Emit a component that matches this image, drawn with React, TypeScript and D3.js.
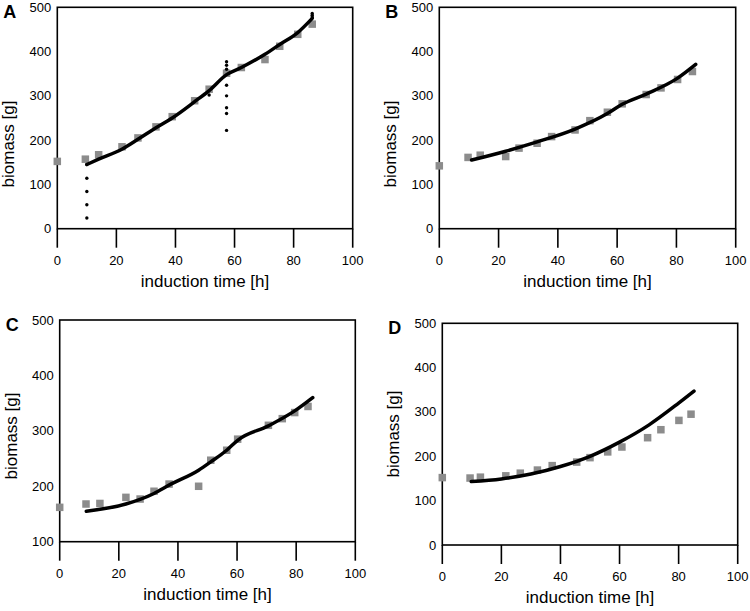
import * as d3 from 'd3';
import React, { useEffect, useRef } from 'react';

// panel A
const aTime = [0, 9.5, 14, 21.9, 27.3, 33.4, 38.9, 46.5, 51.4, 57.3, 62.3, 70.3, 75.3, 81.4, 86.3];
const aMass = [152, 157, 167, 185, 205, 230, 253, 289, 315, 351, 364, 382, 412, 439, 462];
const aFitTime = [10, 14, 22, 27.3, 33.4, 38.9, 46.5, 51.4, 57.3, 62.3, 70.3, 75.3, 81.4, 86.3];
const aFitMass = [145, 157, 180, 202, 228, 250, 287, 312, 348, 364, 394, 416, 443, 475];
const aDotTime = [10, 10, 10, 10, 10, 51.4, 57.3, 57.3, 57.3, 57.3, 57.3, 57.3, 57.3, 57.3, 86.3, 86.3, 86.3];
const aDotMass = [145, 114, 84, 54, 24, 302, 377, 369, 360, 324, 300, 273, 260, 222, 486, 482, 478];

// panel B
const bTime = [0, 9.7, 13.8, 22.4, 26.9, 33, 37.9, 45.8, 50.8, 56.7, 61.7, 69.8, 74.8, 80.4, 85.4];
const bMass = [142, 161, 166, 163, 182, 193, 208, 223, 244, 263, 282, 303, 318, 337, 355];
const bFitTime = [10.9, 22.4, 33, 45.8, 56.7, 61.7, 69.8, 80.4, 86.5];
const bFitMass = [155, 175, 196, 225, 260, 281, 304, 340, 371];

// panel C
const cTime = [0, 8.9, 13.6, 22.4, 27.2, 31.9, 37, 47, 51.1, 56.5, 60.2, 70.6, 75.3, 79.5, 84];
const cMass = [162, 168, 169, 180, 177, 191, 204, 200, 247, 265, 285, 310, 322, 333, 344];
const cFitTime = [9, 22.4, 31.9, 37, 47, 51.1, 56.5, 60.2, 70.6, 79.5, 85.6];
const cFitMass = [155, 168, 187, 202, 229, 244, 265, 283, 309, 336, 360];

// panel D
const dTime = [0, 9.4, 12.9, 21.5, 26.4, 32.2, 37.2, 45.5, 50, 56, 60.8, 69.5, 74, 80.1, 84.2];
const dMass = [152, 151, 153, 156, 162, 169, 179, 187, 197, 210, 221, 242, 260, 281, 295];
const dFitTime = [9.8, 20, 30, 40, 50, 60, 70, 80, 85.2];
const dFitMass = [143, 149, 160, 177, 200, 232, 271, 320, 347];

const xTicks = [0, 20, 40, 60, 80, 100];

interface Panel {
  label: string;
  left: number; top: number; right: number; bottom: number;
  yMin: number;
  titleY: number;
  time: number[]; mass: number[];
  fitTime: number[]; fitMass: number[];
  dotTime?: number[]; dotMass?: number[];
}

const panels: Panel[] = [
  { label: 'A', left: 57.3, top: 7.3, right: 352.7, bottom: 228.7, yMin: 0, titleY: 144,
    time: aTime, mass: aMass, fitTime: aFitTime, fitMass: aFitMass, dotTime: aDotTime, dotMass: aDotMass },
  { label: 'B', left: 439.3, top: 7.3, right: 735.7, bottom: 228.7, yMin: 0, titleY: 144,
    time: bTime, mass: bMass, fitTime: bFitTime, fitMass: bFitMass },
  { label: 'C', left: 59.7, top: 320, right: 355.3, bottom: 541.7, yMin: 100, titleY: 436,
    time: cTime, mass: cMass, fitTime: cFitTime, fitMass: cFitMass },
  { label: 'D', left: 442.3, top: 323.3, right: 737.7, bottom: 545, yMin: 0, titleY: 434,
    time: dTime, mass: dMass, fitTime: dFitTime, fitMass: dFitMass },
];

const FONT = '"Liberation Sans", Arial, sans-serif';

const App: React.FC = () => {
  const svgRef = useRef<SVGSVGElement>(null);

  useEffect(() => {
    if (!svgRef.current) return;
    const svg = d3.select(svgRef.current);
    svg.selectAll('*').remove();

    panels.forEach(p => {
      const x = d3.scaleLinear().domain([0, 100]).range([p.left, p.right]);
      const y = d3.scaleLinear().domain([p.yMin, 500]).range([p.bottom, p.top]);
      const g = svg.append('g').attr('font-family', FONT);
      const tickLen = 19;

      // frame
      g.append('rect')
        .attr('x', p.left).attr('y', p.top)
        .attr('width', p.right - p.left).attr('height', p.bottom - p.top)
        .attr('fill', 'none').attr('stroke', '#000').attr('stroke-width', 1.6);

      // x ticks hang below the axis
      g.selectAll('line.xt').data(xTicks).join('line')
        .attr('x1', d => x(d)).attr('x2', d => x(d))
        .attr('y1', p.bottom).attr('y2', p.bottom + tickLen)
        .attr('stroke', '#000').attr('stroke-width', 1.6);
      g.selectAll('text.xl').data(xTicks).join('text')
        .attr('x', d => x(d)).attr('y', p.bottom + tickLen + 17)
        .attr('text-anchor', 'middle').attr('font-size', 13)
        .text(d => d);

      const yTicks = d3.range(p.yMin, 501, 100);
      g.selectAll('text.yl').data(yTicks).join('text')
        .attr('x', p.left - 6).attr('y', d => y(d) + 4.5)
        .attr('text-anchor', 'end').attr('font-size', 13)
        .text(d => d);

      g.append('text')
        .attr('x', (p.left + p.right) / 2).attr('y', p.bottom + tickLen + 39)
        .attr('text-anchor', 'middle').attr('font-size', 17)
        .text('induction time [h]');
      g.append('text')
        .attr('transform', `translate(${p.left - 43},${p.titleY}) rotate(-90)`)
        .attr('text-anchor', 'middle').attr('font-size', 17)
        .text('biomass [g]');

      g.append('text')
        .attr('x', p.left - 54).attr('y', p.top + 11)
        .attr('font-size', 18).attr('font-weight', 'bold')
        .text(p.label);

      // measured biomass
      const s = 7.5;
      g.selectAll('rect.pt').data(p.time.map((t, i) => [t, p.mass[i]])).join('rect')
        .attr('x', d => x(d[0]) - s / 2).attr('y', d => y(d[1]) - s / 2)
        .attr('width', s).attr('height', s)
        .attr('fill', '#8c8c8c');

      // model
      const line = d3.line<number[]>()
        .x(d => x(d[0]))
        .y(d => y(d[1]))
        .curve(d3.curveMonotoneX);
      g.append('path')
        .datum(p.fitTime.map((t, i) => [t, p.fitMass[i]]))
        .attr('fill', 'none').attr('stroke', '#000')
        .attr('stroke-width', 3.5).attr('stroke-linecap', 'round')
        .attr('d', line);

      if (p.dotTime && p.dotMass) {
        const dm = p.dotMass;
        g.selectAll('circle.dot').data(p.dotTime.map((t, i) => [t, dm[i]])).join('circle')
          .attr('cx', d => x(d[0])).attr('cy', d => y(d[1]))
          .attr('r', 1.7).attr('fill', '#000');
      }
    });
  }, []);

  return (
    <svg
      ref={svgRef}
      width={750}
      height={611}
      style={{ position: 'absolute', left: 0, top: 0, background: '#fff' }}
    />
  );
};

export default App;
